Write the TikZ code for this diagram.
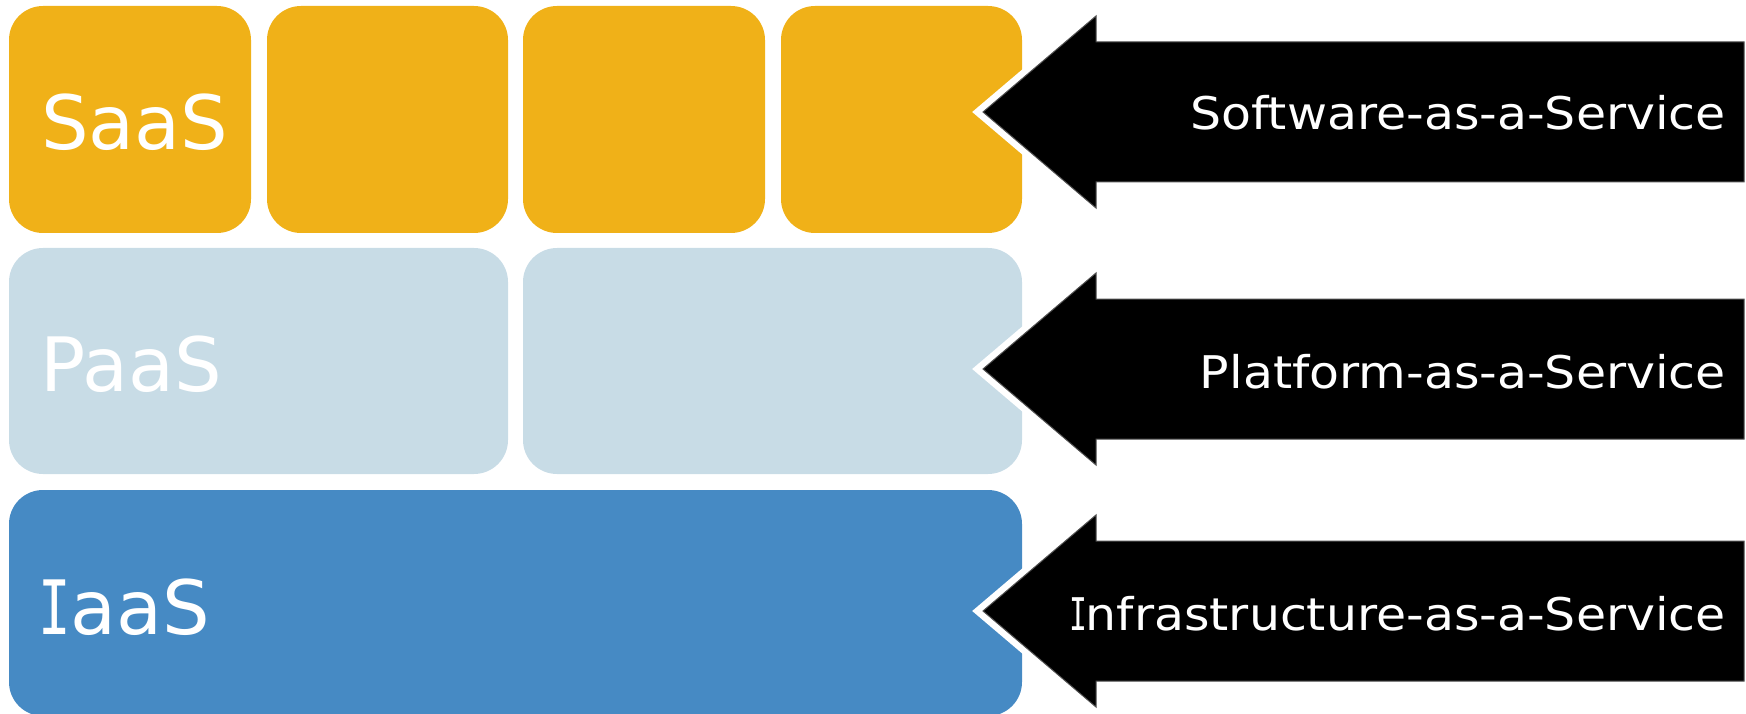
\documentclass[tikz,border=0pt]{standalone}
\usepackage{fontspec}
\setmainfont{DejaVu Sans}
\newfontfamily\widefont[FakeStretch=1.088]{DejaVu Sans}
\newfontfamily\serifI{DejaVu Sans Mono}
\definecolor{saascol}{RGB}{240,177,24}
\definecolor{paascol}{RGB}{200,220,230}
\definecolor{iaascol}{RGB}{70,138,196}
\definecolor{edgecol}{RGB}{80,80,80}
\begin{document}
\begin{tikzpicture}[x=1pt,y=-1pt,
  tile/.style={anchor=north west, inner sep=0pt, outer sep=0pt, rounded corners=34pt, draw=none},
  biglabel/.style={anchor=base west, inner sep=0pt, text=white, font=\fontsize{75}{80}\selectfont},
  arrowlabel/.style={anchor=base east, inner sep=0pt, text=white, font=\widefont\fontsize{45}{50}\selectfont},
  arrowhalo/.style={draw=white, line width=14pt, line join=miter, miter limit=10},
  arrowbody/.style={fill=black, draw=edgecol, line width=1pt, line join=miter}
]
\useasboundingbox (0,0) rectangle (1746,714);
\clip (0,0) rectangle (1746,714);
% SaaS row
\node[tile, fill=saascol, minimum width=242pt, minimum height=227pt] (s1) at (9,6) {};
\node[tile, fill=saascol, minimum width=241pt, minimum height=227pt] (s2) at (267,6) {};
\node[tile, fill=saascol, minimum width=242pt, minimum height=227pt] (s3) at (523,6) {};
\node[tile, fill=saascol, minimum width=241pt, minimum height=227pt] (s4) at (781,6) {};
% PaaS row
\node[tile, fill=paascol, minimum width=499pt, minimum height=226pt] (p1) at (9,248) {};
\node[tile, fill=paascol, minimum width=499pt, minimum height=226pt] (p2) at (523,248) {};
% IaaS row
\node[tile, fill=iaascol, minimum width=1013pt, minimum height=226pt] (i1) at (9,490) {};
% big labels
\node[biglabel] (saas) at (41,150) {SaaS};
\node[biglabel] (paas) at (40,391) {PaaS};
\node[biglabel] (iaas) at (38,634) {\scalebox{0.72}[1]{\serifI I}aaS};
% arrows
\foreach \c in {112, 369, 611}{
  \draw[arrowhalo] (983,\c) -- (1096,\c-96) -- (1096,\c-70) -- (1744,\c-70) -- (1744,\c+70) -- (1096,\c+70) -- (1096,\c+96) -- cycle;
  \draw[arrowbody] (983,\c) -- (1096,\c-96) -- (1096,\c-70) -- (1744,\c-70) -- (1744,\c+70) -- (1096,\c+70) -- (1096,\c+96) -- cycle;
}
\node[arrowlabel] (sw) at (1726,130) {Software-as-a-Service};
\node[arrowlabel] (pf) at (1726,388) {Platform-as-a-Service};
\node[arrowlabel] (inf) at (1726,630) {\scalebox{0.66}[1]{\serifI I}\kern-2pt nfrastructure-as-a-Service};
\end{tikzpicture}
\end{document}
